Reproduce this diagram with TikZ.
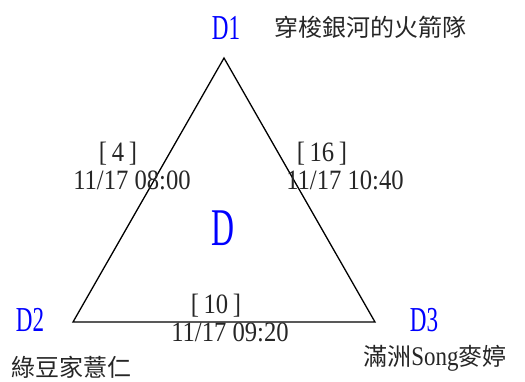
\documentclass[tikz,border=0pt]{standalone}
\usepackage{fontspec}
\setmainfont[FakeStretch=0.88]{Liberation Serif}
\newfontfamily\cjk{Noto Sans CJK TC}
\newfontfamily\vtxfont[FakeStretch=0.66]{Liberation Serif}
\newfontfamily\bigdfont[FakeStretch=0.6]{Liberation Serif}
\newfontfamily\latserif[FakeStretch=0.85]{Liberation Serif}
\begin{document}
\begin{tikzpicture}[x=1pt,y=-1pt,
  vlabel/.style={text=blue,font=\fontsize{35}{35}\selectfont\vtxfont,inner sep=0pt,anchor=center},
  elabel/.style={text=black!85,font=\fontsize{28}{28}\selectfont,inner sep=0pt,anchor=center},
  teamname/.style={text=black!85,font=\fontsize{24}{24}\selectfont\cjk,inner sep=0pt,anchor=center},
  triedge/.style={draw=black,line width=1.3pt,line join=miter}]
\useasboundingbox (0,0) rectangle (525,381);
\coordinate (v1) at (224,58);
\coordinate (v2) at (73,322);
\coordinate (v3) at (375,322);
\draw[triedge] (v1) -- (v2) -- (v3) -- cycle;
\node[vlabel] (d1) at (226,28) {D1};
\node[vlabel] (d2) at (30,320) {D2};
\node[vlabel] (d3) at (424,320) {D3};
\node[vlabel,font=\fontsize{53}{53}\selectfont\bigdfont] (d) at (223,228) {D};
\node[teamname] (n1) at (370,27) {穿梭銀河的火箭隊};
\node[teamname] (n2) at (72,367) {綠豆家薏仁};
\node[teamname] (n3) at (435,358) {滿洲{\fontsize{27}{27}\selectfont\latserif Song}麥婷};
\node[elabel] (e12a) at (118,154) {[\,4\,]};
\node[elabel] (e12b) at (132,180) {11/17 08:00};
\node[elabel] (e13a) at (322,154) {[\,16\,]};
\node[elabel] (e13b) at (345,180) {11/17 10:40};
\node[elabel] (e23a) at (216,306) {[\,10\,]};
\node[elabel] (e23b) at (230,332) {11/17 09:20};
\end{tikzpicture}
\end{document}
